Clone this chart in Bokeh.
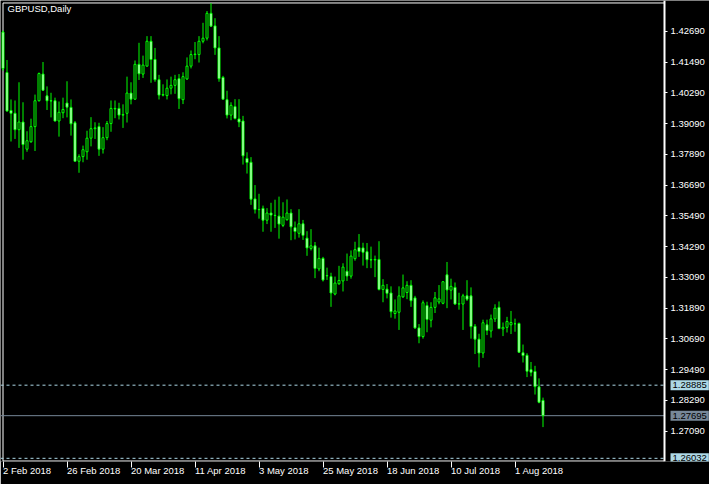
import pandas as pd
from bokeh.plotting import figure
from bokeh.models import FixedTicker, Label, NumeralTickFormatter, ColumnDataSource, Range1d
from bokeh.embed import file_html
from bokeh.resources import INLINE

# ---------------- data ----------------
symbol = "GBPUSD,Daily"

opens = [1.4266, 1.4108, 1.3960, 1.3949, 1.3885, 1.3915, 1.3809, 1.3838, 1.3897, 1.3998,
         1.4102, 1.4017, 1.3998, 1.3998, 1.3919, 1.3951, 1.3989, 1.3972, 1.3912, 1.3762,
         1.3780, 1.3799, 1.3852, 1.3889, 1.3897, 1.3809, 1.3854, 1.3909, 1.3966, 1.3968,
         1.3942, 1.3949, 1.4028, 1.4004, 1.4140, 1.4102, 1.4133, 1.4230, 1.4159, 1.4080,
         1.4020, 1.4018, 1.4047, 1.4058, 1.4084, 1.4002, 1.4083, 1.4133, 1.4178, 1.4178,
         1.4230, 1.4242, 1.4339, 1.4290, 1.4204, 1.4089, 1.4002, 1.3942, 1.3975, 1.3927,
         1.3919, 1.3773, 1.3758, 1.3615, 1.3574, 1.3578, 1.3532, 1.3560, 1.3551, 1.3548,
         1.3512, 1.3534, 1.3560, 1.3503, 1.3481, 1.3518, 1.3462, 1.3422, 1.3432, 1.3342,
         1.3383, 1.3315, 1.3312, 1.3244, 1.3284, 1.3295, 1.3333, 1.3314, 1.3382, 1.3425,
         1.3424, 1.3409, 1.3378, 1.3377, 1.3379, 1.3262, 1.3263, 1.3248, 1.3168, 1.3173,
         1.3233, 1.3250, 1.3278, 1.3229, 1.3112, 1.3078, 1.3199, 1.3142, 1.3192, 1.3213,
         1.3208, 1.3319, 1.3259, 1.3270, 1.3205, 1.3205, 1.3237, 1.3237, 1.3118, 1.3068,
         1.3014, 1.3124, 1.3100, 1.3147, 1.3192, 1.3108, 1.3114, 1.3124, 1.3128, 1.3129,
         1.3015, 1.3005, 1.2949, 1.2942, 1.2882, 1.2829]
highs = [1.4272, 1.4157, 1.4003, 1.3999, 1.4070, 1.3992, 1.3879, 1.3928, 1.4022, 1.4108,
         1.4149, 1.4054, 1.4029, 1.4010, 1.3995, 1.4010, 1.4074, 1.4003, 1.3919, 1.3789,
         1.3823, 1.3881, 1.3934, 1.3914, 1.3912, 1.3895, 1.3919, 1.3999, 1.3999, 1.3990,
         1.3984, 1.4092, 1.4070, 1.4155, 1.4224, 1.4174, 1.4250, 1.4250, 1.4204, 1.4099,
         1.4062, 1.4081, 1.4092, 1.4099, 1.4102, 1.4109, 1.4167, 1.4194, 1.4227, 1.4250,
         1.4302, 1.4348, 1.4379, 1.4320, 1.4250, 1.4095, 1.4037, 1.3992, 1.4004, 1.4004,
         1.3939, 1.3797, 1.3778, 1.3669, 1.3635, 1.3589, 1.3579, 1.3600, 1.3612, 1.3624,
         1.3602, 1.3613, 1.3575, 1.3527, 1.3575, 1.3533, 1.3489, 1.3497, 1.3447, 1.3425,
         1.3389, 1.3347, 1.3327, 1.3312, 1.3354, 1.3364, 1.3402, 1.3414, 1.3448, 1.3478,
         1.3444, 1.3443, 1.3429, 1.3394, 1.3450, 1.3302, 1.3283, 1.3274, 1.3223, 1.3274,
         1.3320, 1.3294, 1.3298, 1.3237, 1.3127, 1.3219, 1.3214, 1.3212, 1.3252, 1.3279,
         1.3294, 1.3369, 1.3304, 1.3289, 1.3249, 1.3245, 1.3298, 1.3270, 1.3127, 1.3089,
         1.3144, 1.3144, 1.3164, 1.3204, 1.3215, 1.3133, 1.3155, 1.3178, 1.3148, 1.3133,
         1.3047, 1.3013, 1.2979, 1.2964, 1.2915, 1.2840]
lows = [1.4115, 1.3955, 1.3839, 1.3849, 1.3814, 1.3768, 1.3799, 1.3834, 1.3802, 1.3995,
        1.4037, 1.3962, 1.3933, 1.3917, 1.3858, 1.3930, 1.3933, 1.3862, 1.3762, 1.3717,
        1.3758, 1.3768, 1.3820, 1.3849, 1.3783, 1.3792, 1.3844, 1.3877, 1.3930, 1.3925,
        1.3892, 1.3913, 1.3984, 1.4002, 1.4079, 1.4087, 1.4131, 1.4068, 1.4072, 1.4003,
        1.4015, 1.4003, 1.4023, 1.4025, 1.3966, 1.3985, 1.4079, 1.4124, 1.4160, 1.4147,
        1.4222, 1.4233, 1.4287, 1.4177, 1.4072, 1.4004, 1.3929, 1.3922, 1.3925, 1.3895,
        1.3749, 1.3714, 1.3592, 1.3558, 1.3538, 1.3487, 1.3517, 1.3487, 1.3502, 1.3460,
        1.3505, 1.3530, 1.3454, 1.3457, 1.3464, 1.3455, 1.3393, 1.3414, 1.3306, 1.3333,
        1.3293, 1.3299, 1.3194, 1.3239, 1.3280, 1.3254, 1.3295, 1.3304, 1.3374, 1.3389,
        1.3355, 1.3345, 1.3345, 1.3310, 1.3258, 1.3212, 1.3227, 1.3152, 1.3148, 1.3104,
        1.3229, 1.3224, 1.3194, 1.3108, 1.3052, 1.3070, 1.3095, 1.3114, 1.3170, 1.3204,
        1.3204, 1.3189, 1.3223, 1.3202, 1.3183, 1.3104, 1.3217, 1.3070, 1.3010, 1.2958,
        1.2995, 1.3084, 1.3074, 1.3135, 1.3108, 1.3080, 1.3094, 1.3088, 1.3097, 1.3014,
        1.2977, 1.2920, 1.2923, 1.2852, 1.2818, 1.2725]
closes = [1.4124, 1.3958, 1.3949, 1.3885, 1.3915, 1.3827, 1.3842, 1.3897, 1.3998, 1.4104,
          1.4039, 1.3998, 1.3997, 1.3919, 1.3953, 1.3964, 1.3973, 1.3908, 1.3762, 1.3780,
          1.3807, 1.3852, 1.3889, 1.3892, 1.3809, 1.3854, 1.3909, 1.3968, 1.3968, 1.3942,
          1.3944, 1.4028, 1.4004, 1.4140, 1.4103, 1.4137, 1.4230, 1.4159, 1.4080, 1.4020,
          1.4022, 1.4047, 1.4058, 1.4080, 1.4006, 1.4092, 1.4133, 1.4178, 1.4180, 1.4230,
          1.4242, 1.4339, 1.4289, 1.4204, 1.4084, 1.4004, 1.3942, 1.3980, 1.3929, 1.3915,
          1.3783, 1.3757, 1.3614, 1.3574, 1.3573, 1.3532, 1.3560, 1.3552, 1.3550, 1.3517,
          1.3544, 1.3560, 1.3506, 1.3488, 1.3518, 1.3473, 1.3424, 1.3432, 1.3344, 1.3383,
          1.3299, 1.3316, 1.3248, 1.3287, 1.3297, 1.3349, 1.3314, 1.3392, 1.3417, 1.3410,
          1.3407, 1.3378, 1.3377, 1.3379, 1.3262, 1.3278, 1.3247, 1.3175, 1.3178, 1.3237,
          1.3268, 1.3278, 1.3218, 1.3112, 1.3078, 1.3210, 1.3145, 1.3192, 1.3229, 1.3225,
          1.3292, 1.3260, 1.3274, 1.3205, 1.3206, 1.3237, 1.3224, 1.3117, 1.3068, 1.3014,
          1.3132, 1.3102, 1.3147, 1.3189, 1.3109, 1.3114, 1.3137, 1.3133, 1.3128, 1.3017,
          1.3004, 1.2943, 1.2939, 1.2883, 1.2822, 1.27695]

first_day = "2018-02-02"
tick_dates = ["2018-02-02", "2018-02-26", "2018-03-20", "2018-04-11", "2018-05-03",
              "2018-05-25", "2018-06-18", "2018-07-10", "2018-08-01"]
tick_labels = ["2 Feb 2018", "26 Feb 2018", "20 Mar 2018", "11 Apr 2018", "3 May 2018",
               "25 May 2018", "18 Jun 2018", "10 Jul 2018", "1 Aug 2018"]
price_ticks = [1.27090, 1.28290, 1.29490, 1.30690, 1.31890, 1.33090, 1.34290,
               1.35490, 1.36690, 1.37890, 1.39090, 1.40290, 1.41490, 1.42690]
level_upper = 1.28885
level_lower = 1.26032
bid_price = 1.27695

# ---------------- layout ----------------
W, H = 709, 484
BB = 20                      # room for the date labels
bar_px = 4.0                 # pixels per daily bar
x_start = -2.5 / bar_px      # bar 0 sits 2.5 px from the left edge
x_end = x_start + W / bar_px
x_scale_pos = x_start + 664 / bar_px     # where the price scale line sits
y_top, y_bot = 1.43890, 1.25908
px_per_price = (H - BB) / (y_top - y_bot)

FONT = "Liberation Sans"
FSIZE = "9.5px"
LIME = "#00ff00"
FRAME = "white"
LEVEL = "#add8e6"
BID = "#778899"

dates = pd.bdate_range(first_day, periods=len(opens))
date_index = {d.strftime("%Y-%m-%d"): i for i, d in enumerate(dates)}
tick_idx = [date_index[d] for d in tick_dates]

idx = list(range(len(opens)))
src = ColumnDataSource(dict(
    x=idx, o=opens, h=highs, l=lows, c=closes,
    top=[max(a, b) for a, b in zip(opens, closes)],
    bot=[min(a, b) for a, b in zip(opens, closes)],
    fill=["white" if c < o else "black" for o, c in zip(opens, closes)],
))

p = figure(width=W, height=H, output_backend="svg", toolbar_location=None,
           x_range=Range1d(x_start, x_end), y_range=Range1d(y_bot, y_top),
           x_axis_location="below", y_axis_location="right",
           background_fill_color="black", border_fill_color="black",
           min_border_left=0, min_border_top=0, min_border_right=0, min_border_bottom=BB,
           outline_line_color=None)
p.grid.visible = False

# date axis (labels start at the tick, as in the terminal)
xa = p.xaxis[0]
xa.ticker = FixedTicker(ticks=tick_idx)
xa.major_label_overrides = {i: t for i, t in zip(tick_idx, tick_labels)}
xa.axis_line_color = None
xa.major_tick_line_color = FRAME
xa.minor_tick_line_color = None
xa.major_tick_in = 0
xa.major_tick_out = 6
xa.major_label_orientation = -0.0001
xa.major_label_standoff = 3
xa.major_label_text_color = "white"
xa.major_label_text_font = FONT
xa.major_label_text_font_size = FSIZE

# price scale, pinned inside the plot so the price boxes can sit beside it
ya = p.yaxis[0]
ya.fixed_location = x_scale_pos
ya.ticker = FixedTicker(ticks=price_ticks)
ya.formatter = NumeralTickFormatter(format="0.00000")
ya.axis_line_color = FRAME
ya.axis_line_width = 2
ya.major_tick_line_color = FRAME
ya.minor_tick_line_color = None
ya.major_tick_in = 0
ya.major_tick_out = 3
ya.major_label_standoff = 3
ya.major_label_text_color = "white"
ya.major_label_text_font = FONT
ya.major_label_text_font_size = FSIZE

# chart frame (left, top, bottom)
half_x = 0.5 / bar_px
half_y = 0.5 / px_per_price
fx0 = x_start + 2.0 / bar_px + half_x
fy1 = y_top - 2.0 / px_per_price - half_y
fy0 = y_bot + half_y
p.line(x=[x_scale_pos, fx0, fx0, x_scale_pos], y=[fy1, fy1, fy0, fy0],
       line_color=FRAME, line_width=1)

# level lines
p.segment(x0=[x_start, x_start], y0=[level_upper, level_lower],
          x1=[x_scale_pos, x_scale_pos], y1=[level_upper, level_lower],
          line_color=LEVEL, line_width=1, line_dash="3 3")
p.segment(x0=[x_start], y0=[bid_price], x1=[x_scale_pos], y1=[bid_price],
          line_color=BID, line_width=1)

# candles
p.segment(x0="x", y0="l", x1="x", y1="h", source=src, line_color=LIME, line_width=1)
p.vbar(x="x", width=0.5, top="top", bottom="bot", source=src,
       fill_color="fill", line_color=LIME, line_width=1)

# price boxes on the scale
lab_x = x_scale_pos + 6 / bar_px
for lvl, bg in [(level_upper, LEVEL), (bid_price, BID), (level_lower, LEVEL)]:
    p.add_layout(Label(x=lab_x, y=lvl, text=f"{lvl:.5f}", text_align="left",
                       text_baseline="middle", text_color="black", text_font=FONT,
                       text_font_size=FSIZE, background_fill_color=bg, padding=2))

p.add_layout(Label(x=x_start + 7 / bar_px, y=y_top - 3 / px_per_price, text=symbol,
                   text_align="left", text_baseline="top", text_color="white",
                   text_font=FONT, text_font_size=FSIZE))

open("out.html", "w").write(file_html(p, INLINE))
